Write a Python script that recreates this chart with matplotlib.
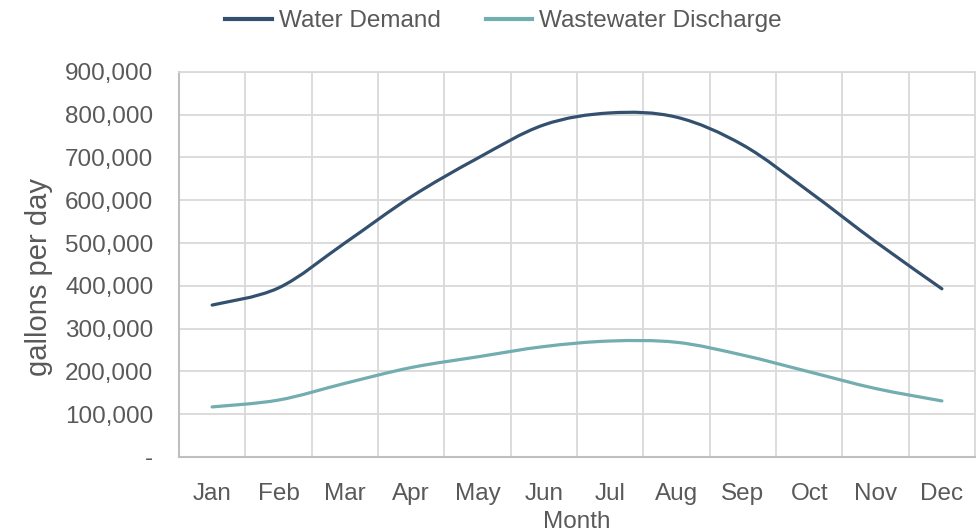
"""Monthly water demand vs wastewater discharge, Excel-style smoothed lines."""
import matplotlib
matplotlib.use("Agg")
import matplotlib.pyplot as plt
import numpy as np
from matplotlib.lines import Line2D
from matplotlib.patches import PathPatch
from matplotlib.path import Path
from matplotlib.ticker import FuncFormatter, MultipleLocator

months = ["Jan", "Feb", "Mar", "Apr", "May", "Jun",
          "Jul", "Aug", "Sep", "Oct", "Nov", "Dec"]
water_demand = [355000, 395000, 500000, 608000, 698000, 776000,
                804000, 794000, 729000, 620000, 503000, 393000]
wastewater = [117000, 133000, 172000, 209000, 234000, 258000,
              271000, 268000, 238000, 199000, 160000, 131000]

DEMAND_C = "#34506F"
WASTE_C = "#72ADB0"
TEXT_C = "#595959"
GRID_C = "#D9D9D9"
AXIS_C = "#BFBFBF"
FS = 17.5

plt.rcParams["font.family"] = ["Liberation Sans", "DejaVu Sans"]


def smooth_path(x, y):
    """Bezier path through the points (Catmull-Rom control points, like Excel's smoothing)."""
    pts = np.column_stack([x, y]).astype(float)
    ext = np.vstack([pts[0], pts, pts[-1]])
    verts = [pts[0]]
    codes = [Path.MOVETO]
    for i in range(len(pts) - 1):
        p0, p1, p2, p3 = ext[i], ext[i + 1], ext[i + 2], ext[i + 3]
        verts += [p1 + (p2 - p0) / 6, p2 - (p3 - p1) / 6, p2]
        codes += [Path.CURVE4] * 3
    return Path(verts, codes)


fig = plt.figure(figsize=(9.78, 5.32), dpi=100)
ax = fig.add_axes([0.183, 0.141, 0.814, 0.724])

xs = np.arange(len(months))
for vals, col in [(water_demand, DEMAND_C), (wastewater, WASTE_C)]:
    ax.add_patch(PathPatch(smooth_path(xs, vals), fill=False, edgecolor=col,
                           lw=2.3, capstyle="round", zorder=3))

ax.set_xlim(-0.5, len(months) - 0.5)
ax.set_ylim(0, 900000)
ax.set_xticks(xs)
ax.set_xticklabels(months)
ax.xaxis.set_minor_locator(MultipleLocator(1, offset=0.5))
ax.yaxis.set_major_locator(MultipleLocator(100000))
ax.yaxis.set_major_formatter(FuncFormatter(lambda v, _: "-" if v == 0 else f"{v:,.0f}"))

ax.grid(True, axis="y", which="major", color=GRID_C, lw=1.3)
ax.grid(True, axis="x", which="minor", color=GRID_C, lw=1.3)
ax.set_axisbelow(True)
ax.tick_params(axis="both", which="both", length=0, labelsize=FS, colors=TEXT_C)
ax.tick_params(axis="x", pad=19)
ax.tick_params(axis="y", pad=18.5)

for side in ["left", "bottom"]:
    ax.spines[side].set_color(AXIS_C)
    ax.spines[side].set_linewidth(1.5)
for side in ["top", "right"]:
    ax.spines[side].set_color(GRID_C)
    ax.spines[side].set_linewidth(1.3)

# the reference's vertical title runs longer than its tick text, so it gets a bigger size
ax.set_ylabel("gallons per day", fontsize=21, color=TEXT_C)
ax.yaxis.set_label_coords(-0.158, 0.468)
ax.set_xlabel("Month", fontsize=FS, color=TEXT_C, labelpad=4)

handles = [Line2D([], [], color=DEMAND_C, lw=3),
           Line2D([], [], color=WASTE_C, lw=3)]
fig.legend(handles, ["Water Demand", "Wastewater Discharge"], loc="center",
           bbox_to_anchor=(0.515, 0.96), ncol=2, frameon=False, fontsize=FS,
           labelcolor=TEXT_C, handlelength=1.9, handletextpad=0.3, columnspacing=1.86)

fig.savefig("out.png", dpi=100)
